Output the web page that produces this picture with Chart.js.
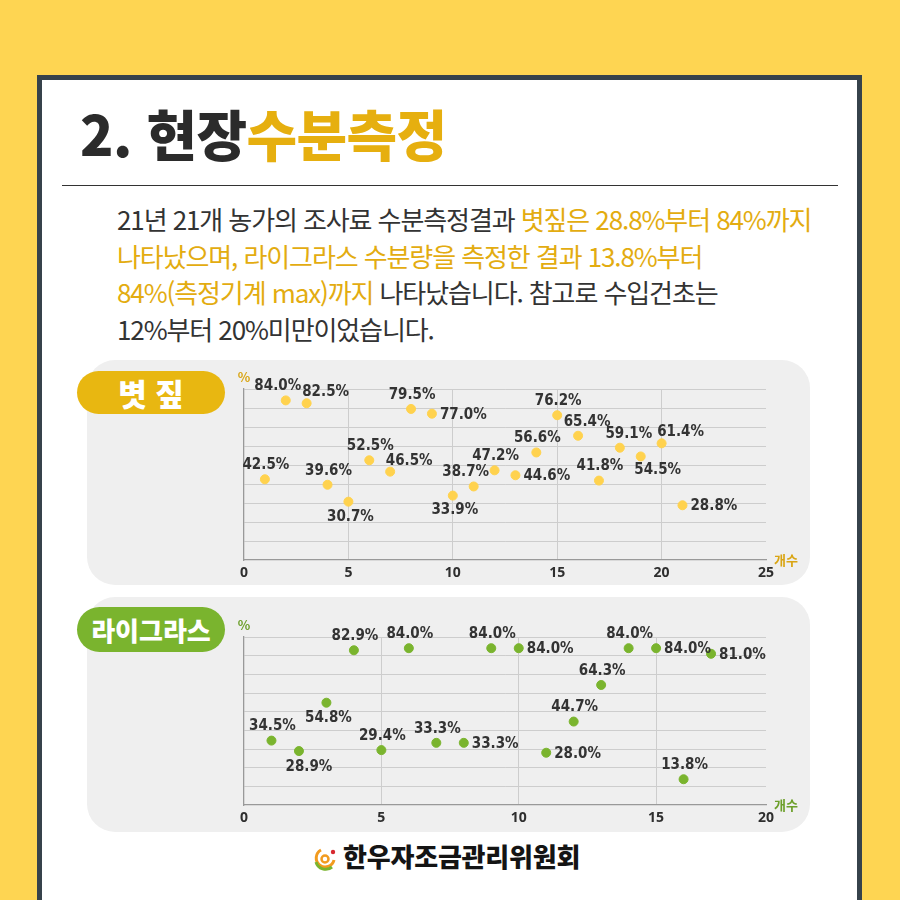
<!DOCTYPE html>
<html lang="ko">
<head>
<meta charset="utf-8">
<script src="https://cdn.jsdelivr.net/npm/chart.js@4.4.1/dist/chart.umd.min.js"></script>
<style>
body { margin:0; width:900px; height:900px; background:#FED552; overflow:hidden; position:relative; font-family:"Noto Sans CJK KR", sans-serif; }
#frame { position:absolute; left:37px; top:75px; width:815px; height:840px; border:5px solid #36424B; background:#fff; }
#title { position:absolute; left:80px; top:92px; font-size:55px; font-weight:900; letter-spacing:-0.6px; color:#2B2B2B; white-space:nowrap; }
#title span { color:#E6AF0F; }
#rule { position:absolute; left:62px; top:185px; width:776px; border-top:1.5px solid #333; }
#para { position:absolute; left:117px; top:201px; font-size:26px; line-height:36.5px; color:#333; letter-spacing:-1.1px; white-space:nowrap; }
#para span { color:#E3AC10; }
.panel { position:absolute; left:87px; width:723px; background:#EFEFEF; border-radius:28px; }
.badge { position:absolute; left:77px; width:148px; border-radius:23px; color:#fff; font-weight:900; text-align:center; }
.wrap { position:absolute; left:87px; width:723px; }
#logo { position:absolute; left:312px; top:845px; }
#logotext { position:absolute; left:343px; top:837px; font-size:26px; font-weight:900; color:#141414; letter-spacing:-0.2px; }
</style>
</head>
<body>
<div id="frame"></div>
<div id="title">2. 현장<span>수분측정</span></div>
<div id="rule"></div>
<div id="para">21년 21개 농가의 조사료 수분측정결과 <span>볏짚은 28.8%부터 84%까지</span><br><span>나타났으며, 라이그라스 수분량을 측정한 결과 13.8%부터</span><br><span>84%(측정기계 max)까지</span> 나타났습니다. 참고로 수입건초는<br>12%부터 20%미만이었습니다.</div>

<div class="panel" style="top:360px;height:225px"></div>
<div class="panel" style="top:597px;height:235px"></div>
<div class="badge" style="top:371px;height:43px;line-height:43px;font-size:31px;background:#E8B711">볏 짚</div>
<div class="badge" style="top:607px;height:45px;line-height:45px;font-size:26px;background:#7AB42E">라이그라스</div>

<div class="wrap" style="top:360px;height:225px"><canvas id="straw" width="723" height="225"></canvas></div>
<div class="wrap" style="top:597px;height:235px"><canvas id="rye" width="723" height="235"></canvas></div>

<svg id="logo" width="28" height="28" viewBox="0 0 28 28">
  <path d="M9 5 A9 9 0 1 0 22 15" fill="none" stroke="#F29B1F" stroke-width="3"/>
  <path d="M4 17 A10 10 0 0 0 20 22" fill="none" stroke="#7AB42E" stroke-width="3"/>
  <circle cx="13" cy="14" r="3.5" fill="none" stroke="#F29B1F" stroke-width="2.5"/>
  <circle cx="21" cy="7" r="2.2" fill="#D7282F"/>
</svg>
<div id="logotext">한우자조금관리위원회</div>

<script>
// 볏짚 (rice straw)
const strawX = [1, 2, 3, 4, 5, 6, 7, 8, 9, 10, 11, 12, 13, 14, 15, 16, 17, 18, 19, 20, 21]
const strawValues = [42.5, 84.0, 82.5, 39.6, 30.7, 52.5, 46.5, 79.5, 77.0, 33.9, 38.7, 47.2, 44.6, 56.6, 76.2, 65.4, 41.8, 59.1, 54.5, 61.4, 28.8]
const strawTicks = [0, 5, 10, 15, 20, 25]
const strawTickLabels = ['0', '5', '10', '15', '20', '25']

// 라이그라스 (ryegrass)
const ryeX = [1, 2, 3, 4, 5, 6, 7, 8, 9, 10, 11, 12, 13, 14, 15, 16, 17]
const ryeValues = [34.5, 28.9, 54.8, 82.9, 29.4, 84.0, 33.3, 33.3, 84.0, 84.0, 28.0, 44.7, 64.3, 84.0, 84.0, 13.8, 81.0]
const ryeTicks = [0, 5, 10, 15, 19]
const ryeTickLabels = ['0', '5', '10', '15', '20']

// where each value label sits relative to its dot
const strawLabelPos = ['t', 'tl', 'tr', 't', 'b', 't', 'tr', 't', 'r', 'b', 'tl', 't', 'r', 't', 't', 'tx', 't', 'tx', 'br', 'tr', 'r']
const ryeLabelPos = ['t', 'bx', 'b', 't', 't', 't', 't', 'r', 't', 'r', 'r', 't', 't', 't', 'r', 't', 'r']

const offsets = {
    t: [1, -14], tx: [9, -14], tl: [-8, -14], tr: [19, -11],
    b: [2, 15], bx: [10, 16], br: [17, 14]
}

const pointLabels = {
    id: 'pointLabels',
    afterDatasetsDraw(chart, args, opts) {
        const ctx = chart.ctx
        const meta = chart.getDatasetMeta(0)
        const ds = chart.data.datasets[0]
        ctx.save()
        ctx.font = 'bold 15px "Liberation Sans Narrow", "DejaVu Sans Condensed", sans-serif'
        ctx.fillStyle = '#333'
        ctx.textBaseline = 'middle'
        meta.data.forEach(function (pt, i) {
            const txt = ds.data[i].y.toFixed(1) + '%'
            const pos = opts.pos[i]
            if (pos == 'r') {
                ctx.textAlign = 'left'
                ctx.fillText(txt, pt.x + 8, pt.y + 1)
            } else {
                ctx.textAlign = 'center'
                ctx.fillText(txt, pt.x + offsets[pos][0], pt.y + offsets[pos][1])
            }
        })
        const a = chart.chartArea
        ctx.fillStyle = opts.accent
        ctx.font = 'bold 13px "Noto Sans CJK KR", sans-serif'
        ctx.textAlign = 'center'
        ctx.fillText('%', a.left, a.top - 12)
        ctx.textAlign = 'left'
        ctx.fillText('개수', a.right + 8, a.bottom)
        ctx.restore()
    }
}

function makeChart(id, xs, ys, ticks, tickLabels, labelPos, dotColor, accent, pad) {
    const xMax = ticks[ticks.length - 1]
    return new Chart(document.getElementById(id), {
        type: 'scatter',
        data: {
            datasets: [{
                data: xs.map(function (x, i) { return { x: x, y: ys[i] } }),
                backgroundColor: dotColor,
                borderColor: dotColor,
                pointRadius: 4.5,
                pointHoverRadius: 4.5
            }]
        },
        options: {
            responsive: false,
            animation: false,
            events: [],
            layout: { padding: pad },
            plugins: {
                legend: { display: false },
                tooltip: { enabled: false },
                pointLabels: { pos: labelPos, accent: accent }
            },
            scales: {
                x: {
                    type: 'linear',
                    min: 0,
                    max: xMax,
                    afterBuildTicks: function (s) { s.ticks = ticks.map(function (v) { return { value: v } }) },
                    afterFit: function (s) { s.height = 25 },
                    ticks: {
                        padding: 5,
                        autoSkip: false,
                        maxRotation: 0,
                        color: '#2E2E2E',
                        font: { family: '"Noto Sans", sans-serif', size: 14, weight: 'bold' },
                        callback: function (v, i) { return tickLabels[i] }
                    },
                    grid: {
                        drawTicks: false,
                        color: function (c) { return (c.tick && c.tick.value > 0 && c.tick.value < xMax) ? '#CDCDCD' : 'rgba(0,0,0,0)' }
                    },
                    border: { color: '#999', width: 1.3 }
                },
                y: {
                    min: 0,
                    max: 90,
                    afterFit: function (s) { s.width = 0 },
                    ticks: { stepSize: 10, display: false },
                    grid: {
                        drawTicks: false,
                        color: function (c) { return (c.tick && c.tick.value > 0) ? '#CDCDCD' : 'rgba(0,0,0,0)' }
                    },
                    border: { color: '#999', width: 1.3 }
                }
            }
        },
        plugins: [pointLabels]
    })
}

makeChart('straw', strawX, strawValues, strawTicks, strawTickLabels, strawLabelPos,
    '#FFD24E', '#D9A514', { left: 157, right: 44, top: 29, bottom: 0 })
makeChart('rye', ryeX, ryeValues, ryeTicks, ryeTickLabels, ryeLabelPos,
    '#7AB42E', '#6C9F2A', { left: 157, right: 44, top: 40, bottom: 2 })
</script>
</body>
</html>
